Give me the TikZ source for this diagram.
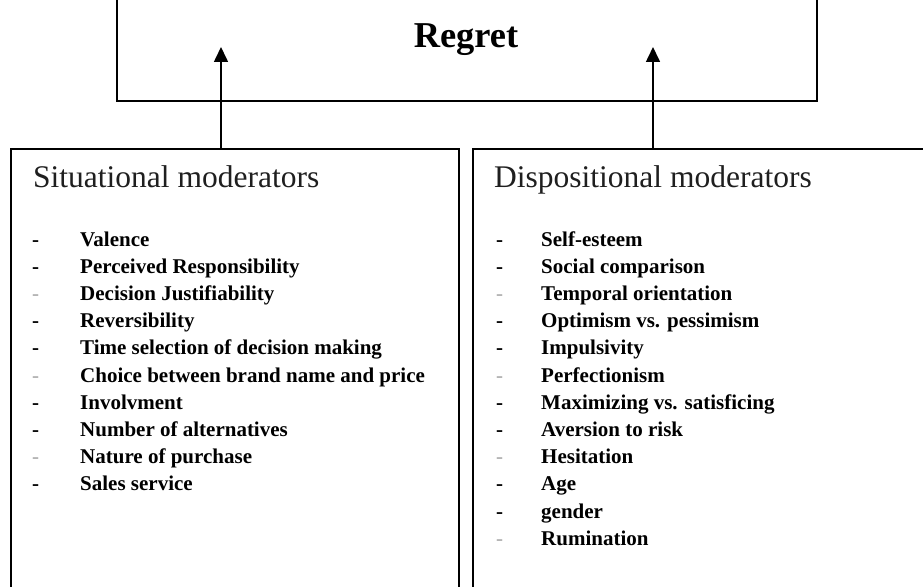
\documentclass[tikz,border=0pt]{standalone}
\usepackage{fontspec}
\setmainfont{Liberation Serif}
\usetikzlibrary{arrows.meta}
\tikzset{
  boxline/.style={draw=black, line width=2pt, inner sep=0pt, outer sep=0pt},
  titletext/.style={anchor=base west, inner sep=0pt, text=black!88, font=\fontsize{31.5}{36}\selectfont},
  itemtext/.style={anchor=base west, inner sep=0pt, text=black, font=\fontsize{21}{25}\selectfont\bfseries},
  dashmark/.style={anchor=base west, inner sep=0pt, text=black, font=\fontsize{21}{25}\selectfont\bfseries},
  faintdash/.style={dashmark, text=black!30},
  arr/.style={draw=black, line width=1.6pt, -{Triangle[width=14pt,length=15pt]}},
}
\begin{document}
\begin{tikzpicture}[x=1pt,y=-1pt]
\clip (0,0) rectangle (923,586);
\fill[white] (0,0) rectangle (923,586);
% boxes (extending beyond the visible frame)
\node[boxline, anchor=south west, minimum width=700pt, minimum height=140pt] (topbox) at (117,101) {};
\node[boxline, anchor=north west, minimum width=448pt, minimum height=480pt] (sit) at (11,149) {};
\node[boxline, anchor=north west, minimum width=480pt, minimum height=480pt] (dis) at (473,149) {};
\node[anchor=base, inner sep=0pt, font=\fontsize{36.4}{40}\selectfont\bfseries] (regret) at (466,48) {Regret};
% arrows
\coordinate (tipL) at (221,47);
\coordinate (tipR) at (653,47);
\draw[arr] (sit.north -| tipL) -- (tipL);
\draw[arr] (dis.north -| tipR) -- (tipR);
% titles
\node[titletext] (sittitle) at (33,187) {Situational moderators};
\node[titletext] (distitle) at (494,187) {Dispositional moderators};
% left list
\foreach \t [count=\i from 0] in {Valence,Perceived Responsibility,Decision Justifiability,Reversibility,Time selection of decision making,Choice between brand name and price,Involvment,Number of alternatives,Nature of purchase,Sales service}{
  \node[itemtext] (l\i) at (80,246+27.2*\i) {\t};
}
\foreach \i in {0,1,3,4,6,7,9}{\node[dashmark] (ld\i) at (32,246+27.2*\i) {-};}
\foreach \i in {2,5,8}{\node[faintdash] (ld\i) at (32,246+27.2*\i) {-};}
% right list
\foreach \t [count=\i from 0] in {Self-esteem,Social comparison,Temporal orientation,Optimism vs. pessimism,Impulsivity,Perfectionism,Maximizing vs. satisficing,Aversion to risk,Hesitation,Age,gender,Rumination}{
  \node[itemtext] (r\i) at (541,246+27.2*\i) {\t};
}
\foreach \i in {0,1,3,4,6,7,9,10}{\node[dashmark] (rd\i) at (496,246+27.2*\i) {-};}
\foreach \i in {2,5,8,11}{\node[faintdash] (rd\i) at (496,246+27.2*\i) {-};}
\end{tikzpicture}
\end{document}
